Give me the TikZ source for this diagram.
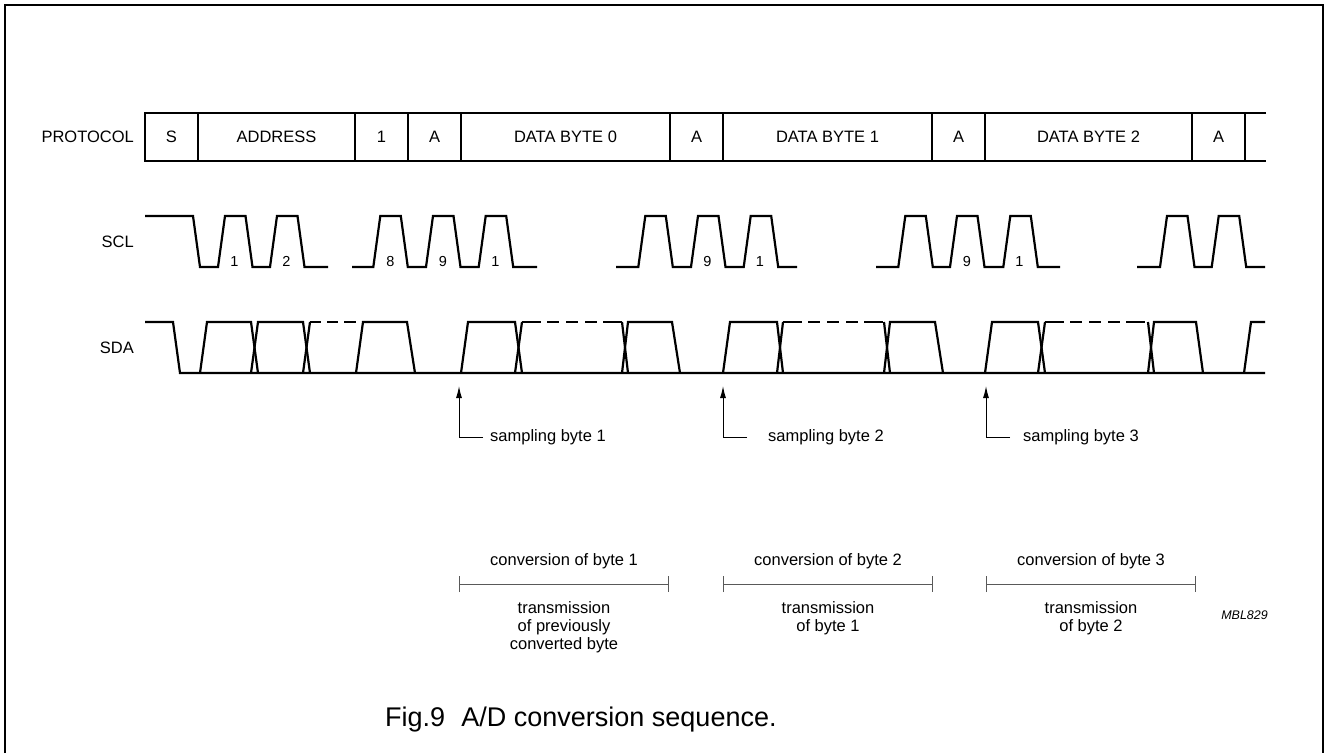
\documentclass[tikz,border=0pt]{standalone}
\usepackage{fontspec}
\setmainfont{Liberation Sans}
\usetikzlibrary{arrows.meta}
\tikzset{
	wave/.style={line width=2.2pt, line join=miter},
	cell/.style={line width=1.6pt},
	lbl/.style={inner sep=0pt, font=\fontsize{16.5}{18}\selectfont},
	bitnum/.style={inner sep=0pt, anchor=base, font=\fontsize{14.5}{16}\selectfont},
	samparrow/.style={line width=1pt, -{Latex[length=12pt,width=6pt]}},
	span/.style={line width=1pt, black!65, {Bar[width=16pt]}-{Bar[width=16pt]}},
	dashtop/.style={dash pattern=on 19pt off 6pt on 12pt off 7pt on 12pt off 7pt on 12pt off 6pt on 19pt},
}

\begin{document}
\begin{tikzpicture}[x=1pt, y=-1pt]
		\useasboundingbox (0,0) rectangle (1327,753);
		\draw[line width=2.5pt] (5,753) -- (5,5) -- (1323,5) -- (1323,753);
		% protocol row
		\draw[cell] (1266,113) -- (145,113) -- (145,161) -- (1266,161);
		\foreach \x in {198,355,408,461,670,723,932,985,1192,1245} \draw[cell] (\x,113) -- (\x,161);
		\node[lbl, anchor=east] (protocol) at (134,137) {PROTOCOL};
		\node[lbl] (pS) at (171.5,137) {S};
		\node[lbl] (pAddr) at (276.5,137) {ADDRESS};
		\node[lbl] (pRW) at (381.5,137) {1};
		\node[lbl] (pA0) at (434.5,137) {A};
		\node[lbl] (pD0) at (565.5,137) {DATA BYTE 0};
		\node[lbl] (pA1) at (696.5,137) {A};
		\node[lbl] (pD1) at (827.5,137) {DATA BYTE 1};
		\node[lbl] (pA2) at (958.5,137) {A};
		\node[lbl] (pD2) at (1088.5,137) {DATA BYTE 2};
		\node[lbl] (pA3) at (1218.5,137) {A};
		% SCL
		\node[lbl, anchor=east] (scl) at (134,242) {SCL};
		\draw[wave] (145,216) -- (193,216) -- (200,267) -- (218,267) -- (225,216) -- (245.5,216) -- (252.5,267) -- (270,267) -- (277,216) -- (297.5,216) -- (304.5,267) -- (328,267);
		\draw[wave] (352,267) -- (373.3,267) -- (380.3,216) -- (400.8,216) -- (407.8,267) -- (426,267) -- (433,216) -- (453.5,216) -- (460.5,267) -- (478.7,267) -- (485.7,216) -- (506.2,216) -- (513.2,267) -- (537,267);
		\draw[wave] (616,267) -- (638.3,267) -- (645.3,216) -- (665.8,216) -- (672.8,267) -- (691,267) -- (698,216) -- (718.5,216) -- (725.5,267) -- (743.7,267) -- (750.7,216) -- (771.2,216) -- (778.2,267) -- (797,267);
		\draw[wave] (876,267) -- (898.3,267) -- (905.3,216) -- (925.8,216) -- (932.8,267) -- (950,267) -- (957,216) -- (977.5,216) -- (984.5,267) -- (1003.3,267) -- (1010.3,216) -- (1030.8,216) -- (1037.8,267) -- (1060,267);
		\draw[wave] (1137,267) -- (1160,267) -- (1167,216) -- (1187.5,216) -- (1194.5,267) -- (1211.7,267) -- (1218.7,216) -- (1239.2,216) -- (1246.2,267) -- (1265,267);
		\node[bitnum] (c1) at (234.5,266) {1};
		\node[bitnum] (c2) at (286.5,266) {2};
		\node[bitnum] (c8) at (390.5,266) {8};
		\node[bitnum] (c9a) at (443,266) {9};
		\node[bitnum] (c1a) at (495.5,266) {1};
		\node[bitnum] (c9b) at (707.5,266) {9};
		\node[bitnum] (c1b) at (760,266) {1};
		\node[bitnum] (c9c) at (967,266) {9};
		\node[bitnum] (c1c) at (1019.5,266) {1};
		% SDA
		\node[lbl, anchor=east] (sda) at (134,348) {SDA};
		\draw[wave] (145,322) -- (173,322) -- (180,373) -- (1265,373);
		\draw[wave] (200,373) -- (207,322) -- (251,322) -- (258,373);
		\draw[wave] (251,373) -- (258,322) -- (303,322) -- (310,373);
		\draw[wave] (303,373) -- (310,322);
		\draw[wave, dash pattern=on 11pt off 6pt on 11pt off 6pt on 12pt] (310,322) -- (356,322);
		\draw[wave] (356,373) -- (363,322) -- (407,322) -- (415,373);
		\draw[wave] (461,373) -- (468,322) -- (515,322) -- (522,373);
		\draw[wave] (515,373) -- (522,322);
		\draw[wave, dashtop] (522,322) -- (622,322);
		\draw[wave] (622,322) -- (628,373);
		\draw[wave] (622,373) -- (628,322) -- (672,322) -- (680,373);
		\draw[wave] (723,373) -- (730,322) -- (777,322) -- (783,373);
		\draw[wave] (777,373) -- (783,322);
		\draw[wave, dashtop] (783,322) -- (884,322);
		\draw[wave] (884,322) -- (890,373);
		\draw[wave] (884,373) -- (890,322) -- (935,322) -- (943,373);
		\draw[wave] (985,373) -- (992,322) -- (1038,322) -- (1045,373);
		\draw[wave] (1038,373) -- (1045,322);
		\draw[wave, dashtop] (1045,322) -- (1148,322);
		\draw[wave] (1148,322) -- (1154,373);
		\draw[wave] (1148,373) -- (1154,322) -- (1196,322) -- (1203,373);
		\draw[wave] (1244,373) -- (1251,322) -- (1265,322);
		% sampling points
		\coordinate (tip1) at (459,386);
		\coordinate (tip2) at (723,386);
		\coordinate (tip3) at (986,386);
		\node[lbl, anchor=west] (samp1) at (490,437) {sampling byte 1};
		\node[lbl, anchor=west] (samp2) at (768,437) {sampling byte 2};
		\node[lbl, anchor=west] (samp3) at (1023,437) {sampling byte 3};
		\draw[samparrow] ([xshift=-7pt]samp1.west) -| (tip1);
		\draw[samparrow] ([xshift=-21pt]samp2.west) -| (tip2);
		\draw[samparrow] ([xshift=-13pt]samp3.west) -| (tip3);
		% conversion / transmission
		\draw[span] (459,584) -- (669,584);
		\draw[span] (723,584) -- (933,584);
		\draw[span] (986,584) -- (1196,584);
		\node[lbl] (conv1) at (564,561) {conversion of byte 1};
		\node[lbl] (conv2) at (828,561) {conversion of byte 2};
		\node[lbl] (conv3) at (1091,561) {conversion of byte 3};
		\node[lbl, align=center, anchor=north] (trans1) at (564,601) {transmission\\of previously\\converted byte};
		\node[lbl, align=center, anchor=north] (trans2) at (828,601) {transmission\\of byte 1};
		\node[lbl, align=center, anchor=north] (trans3) at (1091,601) {transmission\\of byte 2};
		\node[inner sep=0pt, anchor=east, font=\itshape\fontsize{12.5}{15}\selectfont] (code) at (1268,615) {MBL829};
		\node[inner sep=0pt, anchor=west, font=\fontsize{27}{31}\selectfont] (caption) at (385,720) {Fig.9\hspace{0.6em}A/D conversion sequence.};
	\end{tikzpicture}
\end{document}
